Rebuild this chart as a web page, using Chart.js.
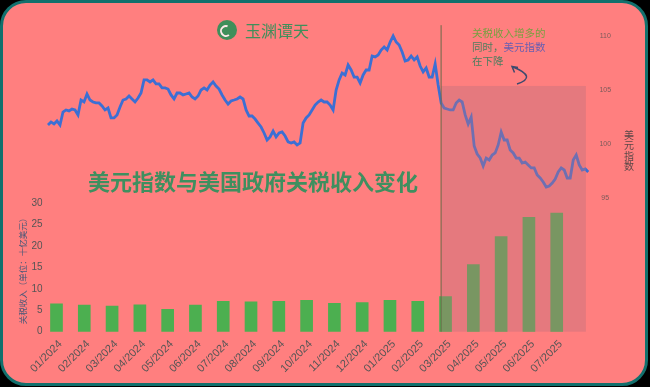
<!DOCTYPE html>
<html lang="zh">
<head>
<meta charset="UTF-8">
<title>美元指数与美国政府关税收入变化</title>
<script src="https://cdn.jsdelivr.net/npm/chart.js"></script>
<style>
    body { margin: 0; background: #000; }
    .card { position: absolute; left: 0; top: 0; width: 648px; height: 386px; box-sizing: border-box;
            border: 3px solid #12706d; border-radius: 26px; background: #ff7f7f; }
    canvas { position: absolute; left: 0; top: 0; }
</style>
</head>
<body>
<div class="card"></div>
<canvas id="chart" width="650" height="387"></canvas>

<script>
    // monthly tariff revenue, billion USD
    const months = ['01/2024', '02/2024', '03/2024', '04/2024', '05/2024', '06/2024', '07/2024',
        '08/2024', '09/2024', '10/2024', '11/2024', '12/2024', '01/2025', '02/2025', '03/2025',
        '04/2025', '05/2025', '06/2025', '07/2025'];
    const tariffRevenue = [6.5, 6.2, 6.0, 6.3, 5.2, 6.2, 7.1, 7.0, 7.1, 7.3, 6.6, 6.8, 7.3, 7.1, 8.2,
        15.7, 22.2, 26.7, 27.7];
    const revenueTicks = [0, 5, 10, 15, 20, 25, 30];

    // dollar index (roughly every 3-4 days from early Jan 2024)
    const dxyValues = [
        101.76, 102.04, 101.85, 102.13, 101.76, 102.96, 103.15, 103.06, 103.24, 103.15,
        102.69, 104.07, 103.89, 104.63, 104.07, 103.89, 103.80, 103.80, 103.52, 103.15,
        103.33, 102.41, 102.41, 102.69, 103.43, 104.07, 104.17, 104.44, 104.17, 103.89,
        104.26, 104.72, 105.93, 105.93, 105.74, 105.93, 105.56, 105.56, 105.19, 105.19,
        105.09, 104.54, 104.17, 104.72, 104.72, 104.54, 104.63, 104.72, 104.35, 104.17,
        104.44, 105.00, 105.19, 105.00, 105.46, 105.74, 105.37, 105.09, 104.54, 104.07,
        103.70, 103.98, 104.07, 104.17, 104.35, 104.17, 103.15, 102.59, 102.59, 102.31,
        101.94, 101.57, 101.02, 100.37, 100.65, 101.20, 100.65, 101.02, 101.11, 100.74,
        100.19, 100.09, 100.19, 99.91, 100.09, 101.94, 102.41, 102.69, 103.15, 103.61,
        103.89, 104.07, 103.89, 103.89, 103.61, 103.15, 105.00, 105.93, 106.57, 106.39,
        107.31, 106.85, 106.20, 106.20, 105.65, 106.39, 106.85, 106.85, 108.15, 108.06,
        108.24, 108.70, 108.98, 108.70, 109.44, 110.00, 109.44, 109.17, 108.52, 107.69,
        107.78, 108.15, 107.78, 108.06, 107.22, 106.67, 107.04, 106.20, 106.20, 107.41,
        105.46, 103.80, 103.33, 103.24, 103.15, 103.15, 103.80, 104.07, 103.89, 102.69,
        101.85, 102.50, 99.81, 99.07, 98.70, 97.96, 98.70, 98.52, 98.98, 99.17,
        99.91, 101.11, 100.37, 100.37, 99.44, 99.17, 98.70, 98.70, 98.24, 98.33,
        98.06, 97.78, 97.78, 97.13, 96.85, 96.48, 96.02, 96.11, 96.39, 96.76,
        97.41, 97.78, 97.59, 96.85, 96.85, 98.52, 98.98, 98.06, 97.59, 97.69,
        97.41
    ];
    const dxyFirstMonth = -0.306;   // months from mid-Jan 2024
    const dxyStepMonths = 0.108;
    const dxyTicks = [95, 100, 105, 110];

    // highlighted period (from early March 2025)
    const markMonth = 13.84;
    const shadeEndMonth = 19.05;
    const shadeTopDxy = 105.37;
    const markTopDxy = 111.0;

    const CJK = '"Noto Sans CJK SC", sans-serif';
    const LATIN = '"Liberation Sans", Arial, sans-serif';

    const revenuePoints = tariffRevenue.map((v, i) => ({ x: i, y: v }));
    const dxyPoints = dxyValues.map((v, i) => ({ x: dxyFirstMonth + i * dxyStepMonths, y: v }));

    function noPadding(s) {
        s.paddingLeft = 0; s.paddingRight = 0; s.paddingTop = 0; s.paddingBottom = 0;
    }

    const extras = {
        id: 'extras',
        afterDatasetsDraw(chart) {
            const { ctx, scales: { x, y, y2 } } = chart;
            const left = x.getPixelForValue(markMonth);
            const right = x.getPixelForValue(shadeEndMonth);
            const top = y2.getPixelForValue(shadeTopDxy);
            const bottom = y.getPixelForValue(0);
            ctx.save();
            ctx.fillStyle = 'rgba(190, 112, 125, 0.4)';
            ctx.fillRect(left, top, right - left, bottom - top);
            ctx.strokeStyle = '#6b6a48';
            ctx.lineWidth = 1;
            ctx.beginPath();
            ctx.moveTo(left, y2.getPixelForValue(markTopDxy));
            ctx.lineTo(left, bottom);
            ctx.stroke();
            ctx.restore();
        },
        afterDraw(chart) {
            const ctx = chart.ctx;
            ctx.save();

            // logo
            ctx.fillStyle = '#3f8f5a';
            ctx.beginPath();
            ctx.arc(227, 30, 10, 0, Math.PI * 2);
            ctx.fill();
            ctx.strokeStyle = '#ffe9e9';
            ctx.lineWidth = 2;
            ctx.beginPath();
            ctx.arc(226, 31, 5, 0.3 * Math.PI, 1.6 * Math.PI);
            ctx.stroke();
            ctx.font = '16px ' + CJK;
            ctx.textBaseline = 'middle';
            ctx.fillText('玉渊谭天', 245, 31);

            // main title
            ctx.font = 'bold 22px ' + CJK;
            ctx.textAlign = 'center';
            ctx.fillStyle = '#3f8f5f';
            ctx.fillText('美元指数与美国政府关税收入变化', 253, 182);

            // note
            ctx.textAlign = 'left';
            ctx.font = '10.5px ' + CJK;
            ctx.fillStyle = '#78a040';
            ctx.fillText('关税收入增多的', 472, 33);
            ctx.fillStyle = '#4f7d5f';
            ctx.fillText('同时，', 472, 47);
            ctx.fillStyle = '#6a5fb0';
            ctx.fillText('美元指数', 472 + ctx.measureText('同时，').width, 47);
            ctx.fillStyle = '#4f7d5f';
            ctx.fillText('在下降', 472, 61);

            // arrow
            ctx.strokeStyle = '#3d4a6e';
            ctx.lineWidth = 1.5;
            ctx.beginPath();
            ctx.moveTo(517, 84);
            ctx.quadraticCurveTo(538, 77, 513, 67);
            ctx.moveTo(518, 67.5);
            ctx.lineTo(512, 66.5);
            ctx.lineTo(514.5, 72.5);
            ctx.stroke();

            // axis titles
            ctx.fillStyle = '#5b4848';
            ctx.font = '10px ' + CJK;
            ctx.textAlign = 'center';
            ['美', '元', '指', '数'].forEach((c, i) => ctx.fillText(c, 629, 135 + i * 10.5));

            ctx.fillStyle = '#4a5878';
            ctx.font = '8.5px ' + CJK;
            ctx.translate(23, 269);
            ctx.rotate(-Math.PI / 2);
            ctx.fillText('关税收入（单位：十亿美元）', 0, 0);
            ctx.restore();
        }
    };

    new Chart(document.getElementById('chart'), {
        data: {
            datasets: [{
                type: 'line',
                data: dxyPoints,
                yAxisID: 'y2',
                borderColor: '#3b6fd4',
                borderWidth: 2.8,
                pointRadius: 0,
                tension: 0
            }, {
                type: 'bar',
                data: revenuePoints,
                yAxisID: 'y',
                backgroundColor: '#4caf50',
                barThickness: 12
            }]
        },
        options: {
            responsive: false,
            animation: false,
            devicePixelRatio: 1,
            layout: { padding: { top: 20, right: 35.6, bottom: 0, left: 0 } },
            plugins: { legend: { display: false }, tooltip: { enabled: false } },
            scales: {
                x: {
                    type: 'linear',
                    offset: false,
                    min: -0.5,
                    max: 19.5,
                    grid: { display: false, drawTicks: false },
                    border: { display: false },
                    afterBuildTicks: s => { s.ticks = months.map((m, i) => ({ value: i })); },
                    afterFit: s => { s.height = 55.3; noPadding(s); },
                    ticks: {
                        autoSkip: false,
                        minRotation: 45,
                        maxRotation: 45,
                        padding: 6,
                        labelOffset: 4,
                        color: '#555',
                        font: { family: LATIN, size: 11 },
                        callback: v => months[v]
                    }
                },
                y: {
                    position: 'left',
                    min: 0,
                    max: 72.8,
                    grid: { display: false, drawTicks: false },
                    border: { display: false },
                    afterBuildTicks: s => { s.ticks = revenueTicks.map(v => ({ value: v })); },
                    afterFit: s => { s.width = 42.6; noPadding(s); },
                    ticks: { padding: 0, color: '#555', font: { family: LATIN, size: 10 } }
                },
                y2: {
                    position: 'right',
                    min: 82.62,
                    max: 111.48,
                    grid: { display: false, drawTicks: false },
                    border: { display: false },
                    afterBuildTicks: s => { s.ticks = dxyTicks.map(v => ({ value: v })); },
                    afterFit: s => { s.width = 16; noPadding(s); },
                    ticks: { padding: 1, crossAlign: 'center', color: '#7a5a5a', font: { family: LATIN, size: 7 } }
                }
            }
        },
        plugins: [extras]
    });
</script>
</body>
</html>
